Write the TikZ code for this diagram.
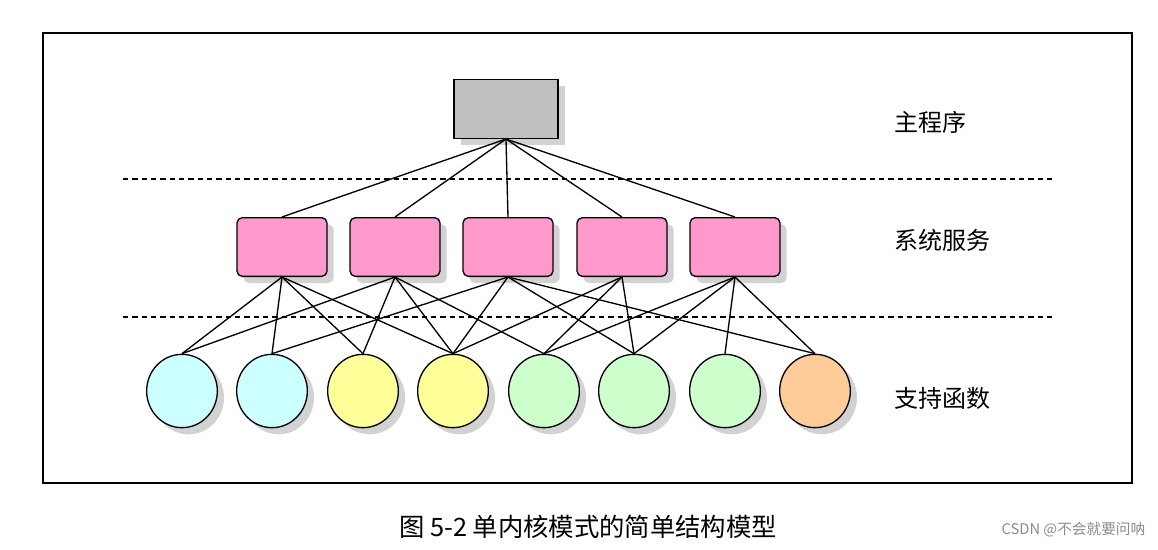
\documentclass[tikz,border=0pt]{standalone}
\usepackage{fontspec}
\newfontfamily\cjk{Noto Sans CJK SC}
\usetikzlibrary{shadows,shapes.geometric}
\begin{document}
\begin{tikzpicture}[x=0.75pt,y=-0.75pt,
  sh/.style={drop shadow={shadow xshift=5pt,shadow yshift=-5pt,fill=black!35}},
  box/.style={draw,line width=1pt,rounded corners=4pt,minimum width=67.5pt,minimum height=44pt,sh},
  circ/.style={draw,line width=1pt,ellipse,minimum width=53pt,minimum height=55pt,sh},
  lab/.style={font=\cjk\fontsize{18}{20}\selectfont,anchor=west},
  ln/.style={line width=1pt},
  dsh/.style={dash pattern=on 4pt off 3pt,line width=0.9pt}]
\useasboundingbox (0,0) rectangle (1158,550);
\fill[white] (0,0) rectangle (1158,550);
\draw[line width=1.3pt] (43,33) rectangle (1132,483);
\draw[dsh] (123,179) -- (1053,179);
\draw[dsh] (123,317) -- (1053,317);
\node[draw,line width=1pt,fill=black!25,minimum width=78pt,minimum height=44pt,sh] (m) at (506,109) {};
\definecolor{pk}{HTML}{FF99CC}
\foreach \i/\x in {1/282,2/395,3/508,4/622,5/735}
  \node[box,fill=pk] (b\i) at (\x,247) {};
\definecolor{cy}{HTML}{CCFFFF}\definecolor{ye}{HTML}{FFFF99}\definecolor{gr}{HTML}{CCFFCC}\definecolor{or}{HTML}{FFCC99}
\foreach \i/\x/\c in {1/182/cy,2/272/cy,3/363/ye,4/453/ye,5/544/gr,6/634/gr,7/725/gr,8/815/or}
  \node[circ,fill=\c] (c\i) at (\x,391) {};
\foreach \i in {1,...,5} \draw[ln] (m.south) -- (b\i.north);
\foreach \b/\c in {1/1,1/2,1/3,1/4,2/1,2/3,2/4,2/5,3/2,3/4,3/6,3/8,4/4,4/5,4/6,5/5,5/6,5/7,5/8}
  \draw[ln] (b\b.south) -- (c\c.north);
\node[lab] (l1) at (890,122) {主程序};
\node[lab] (l2) at (890,240) {系统服务};
\node[lab] (l3) at (890,398) {支持函数};
\node[font=\cjk\fontsize{19}{21}\selectfont] (cap) at (588,527) {图 5-2 单内核模式的简单结构模型};
\node[font=\cjk\fontsize{11}{13}\selectfont,text=black!45,anchor=east] (w) at (1150,530) {CSDN @不会就要问呐};
\end{tikzpicture}
\end{document}
